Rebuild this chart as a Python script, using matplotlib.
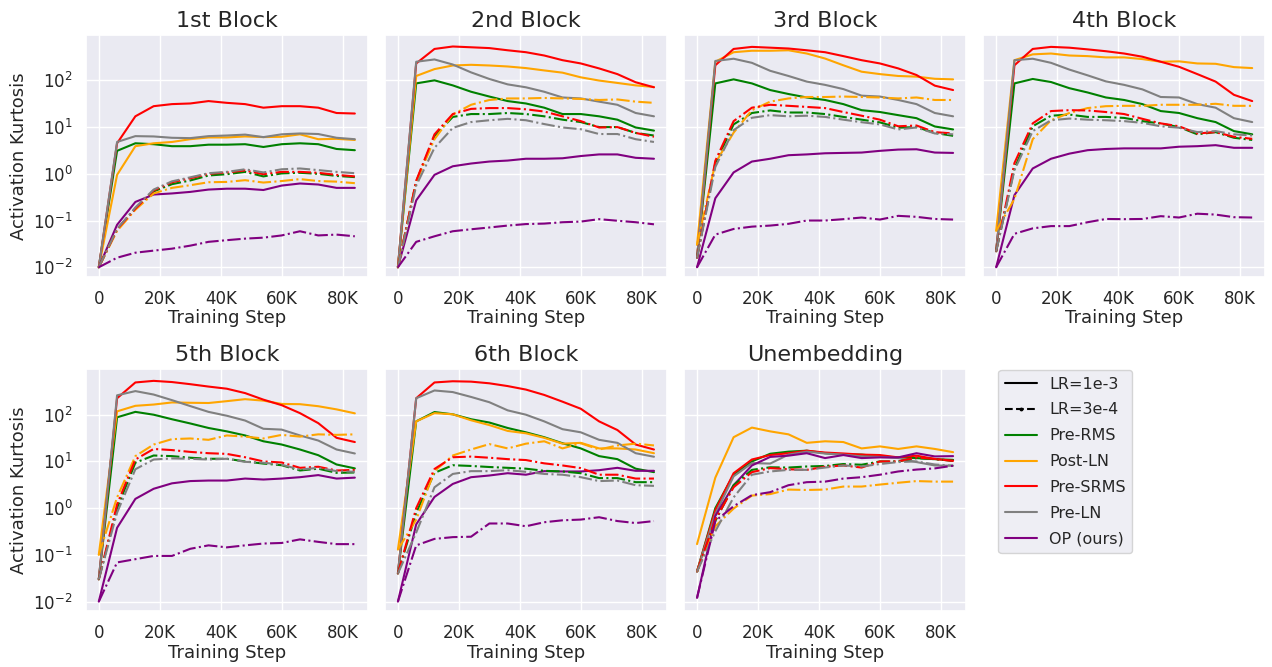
import numpy as np
import matplotlib
matplotlib.use('Agg')
import matplotlib.pyplot as plt
import seaborn as sns
from matplotlib.lines import Line2D
from matplotlib.ticker import FuncFormatter

sns.set_theme(style='darkgrid')

steps = [0, 6000, 12000, 18000, 24000, 30000, 36000, 42000, 48000, 54000,
         60000, 66000, 72000, 78000, 84000]

methods = ['Pre-RMS', 'Post-LN', 'Pre-SRMS', 'Pre-LN', 'OP (ours)']
colors = ['green', 'orange', 'red', 'gray', 'purple']
titles = ['1st Block', '2nd Block', '3rd Block', '4th Block',
          '5th Block', '6th Block', 'Unembedding']

# rows: Pre-RMS, Post-LN, Pre-SRMS, Pre-LN, OP  (LR=1e-3, solid)
block1_hi = [
    [0.01, 3.1, 4.5, 4.3, 3.9, 3.9, 4.2, 4.2, 4.3, 3.75, 4.3, 4.5, 4.3, 3.4, 3.2],
    [0.01, 0.95, 3.9, 4.5, 4.8, 5.5, 6.0, 6.0, 6.3, 6.1, 6.2, 7.0, 5.5, 5.6, 5.3],
    [0.01, 4.5, 17, 28, 31, 32, 36, 33, 31, 26, 28, 28, 26, 20, 19.5],
    [0.01, 4.8, 6.4, 6.3, 5.9, 5.8, 6.4, 6.6, 6.9, 6.1, 7.0, 7.3, 7.1, 5.9, 5.5],
    [0.01, 0.081, 0.25, 0.36, 0.38, 0.41, 0.46, 0.48, 0.48, 0.45, 0.56, 0.62, 0.59, 0.5, 0.5],
]
# same order, LR=3e-4 (dash-dot)
block1_lo = [
    [0.01, 0.065, 0.18, 0.42, 0.6, 0.72, 0.92, 0.98, 1.1, 0.88, 1.02, 1.05, 1.0, 0.9, 0.85],
    [0.01, 0.06, 0.17, 0.38, 0.5, 0.57, 0.66, 0.67, 0.73, 0.65, 0.7, 0.77, 0.7, 0.68, 0.63],
    [0.01, 0.065, 0.18, 0.44, 0.66, 0.8, 1.0, 1.07, 1.18, 0.98, 1.1, 1.1, 1.05, 0.95, 0.88],
    [0.01, 0.066, 0.19, 0.46, 0.69, 0.84, 1.03, 1.1, 1.25, 1.07, 1.25, 1.3, 1.2, 1.1, 1.03],
    [0.01, 0.016, 0.0205, 0.0227, 0.025, 0.029, 0.035, 0.038, 0.041, 0.043, 0.048, 0.059, 0.048, 0.05, 0.046],
]
block2_hi = [
    [0.01, 86, 100, 78, 57, 45, 36, 32, 26, 19, 19, 17, 14.4, 9.8, 8.4],
    [0.01, 124, 174, 208, 215, 208, 198, 183, 163, 146, 116, 99, 88, 78, 72],
    [0.01, 230, 470, 530, 510, 490, 440, 400, 340, 270, 230, 180, 136, 91, 71],
    [0.01, 250, 280, 218, 148, 107, 82, 71, 57, 43, 41, 35, 30, 20, 17],
    [0.01, 0.27, 0.95, 1.45, 1.66, 1.83, 1.92, 2.1, 2.1, 2.15, 2.4, 2.6, 2.6, 2.2, 2.1],
]
block2_lo = [
    [0.01, 0.68, 6.4, 16.5, 19, 19, 20, 19, 17, 14.4, 12.8, 10, 10, 7.5, 6.6],
    [0.01, 0.68, 5.5, 18.6, 30, 38, 41, 41, 42, 41, 40, 38, 39, 35, 33],
    [0.01, 0.71, 7, 19, 24.5, 25.5, 25.5, 24, 21.5, 17, 13.4, 9.8, 10, 7.5, 6.2],
    [0.01, 0.56, 3.6, 9.6, 12.8, 14, 15, 14, 11.6, 9.8, 9, 7.1, 7.1, 5.5, 4.8],
    [0.01, 0.035, 0.046, 0.059, 0.065, 0.071, 0.078, 0.084, 0.086, 0.092, 0.095, 0.107, 0.099, 0.092, 0.083],
]
block3_hi = [
    [0.016, 86, 105, 86, 62, 51, 43, 38, 31, 23, 21, 18, 15.5, 10.3, 8.9],
    [0.03, 250, 400, 430, 430, 440, 375, 293, 210, 153, 136, 124, 120, 108, 105],
    [0.016, 210, 470, 520, 500, 480, 440, 400, 330, 270, 230, 180, 130, 77, 62],
    [0.016, 260, 290, 237, 160, 124, 94, 80, 65, 47, 45, 38, 31, 20, 17],
    [0.01, 0.3, 1.07, 1.83, 2.1, 2.5, 2.6, 2.75, 2.8, 2.85, 3.1, 3.3, 3.35, 2.85, 2.8],
]
block3_lo = [
    [0.016, 1.7, 11.4, 20, 22.7, 20.5, 20.5, 19, 16.5, 14.4, 12.6, 9.7, 10, 7.5, 6.5],
    [0.03, 1.7, 7.6, 23, 35, 41, 44, 44, 45, 44, 43, 41, 43, 38, 38],
    [0.016, 1.9, 13.4, 26, 30, 28.5, 27, 25.5, 21, 17.5, 14.4, 10.4, 10.8, 7.8, 7.3],
    [0.016, 1.4, 8.6, 15.8, 18, 17, 17.5, 16.5, 14.4, 12.7, 11.4, 8.9, 9.8, 7.3, 7.0],
    [0.01, 0.05, 0.066, 0.074, 0.078, 0.085, 0.1, 0.1, 0.107, 0.116, 0.105, 0.126, 0.12, 0.108, 0.105],
]
block4_hi = [
    [0.022, 86, 107, 92, 68, 55, 43, 38, 31, 22, 20, 15.5, 12.8, 8.2, 7.0],
    [0.06, 270, 360, 375, 340, 330, 310, 310, 285, 250, 255, 230, 226, 192, 183],
    [0.022, 210, 470, 520, 500, 460, 420, 375, 320, 250, 195, 136, 94, 49, 36],
    [0.022, 270, 290, 237, 170, 128, 95, 80, 64, 44, 43, 31, 26, 15.5, 12.8],
    [0.01, 0.35, 1.3, 2.1, 2.7, 3.2, 3.4, 3.5, 3.5, 3.5, 3.8, 3.9, 4.1, 3.6, 3.6],
]
block4_lo = [
    [0.022, 1.3, 10.4, 17.5, 18.5, 16.5, 16.5, 15.7, 13.4, 11.9, 10, 7, 7.8, 5.9, 5.3],
    [0.06, 0.29, 5.5, 14, 20, 25.5, 28, 28.5, 28.5, 30, 30, 30, 31.5, 28.5, 28.5],
    [0.022, 1.7, 12, 22, 23, 22.7, 21, 19, 15, 12, 10.4, 7.3, 7.8, 6.2, 5.6],
    [0.022, 1.2, 8.2, 14, 15.2, 14.4, 14, 13.4, 12.3, 10.4, 9.7, 7.8, 8.2, 7, 6.6],
    [0.01, 0.052, 0.068, 0.076, 0.076, 0.092, 0.108, 0.107, 0.108, 0.124, 0.116, 0.14, 0.134, 0.118, 0.116],
]
block5_hi = [
    [0.03, 88, 115, 100, 80, 65, 52, 44, 36, 27, 23, 18, 13.6, 8.6, 7.1],
    [0.1, 118, 155, 165, 183, 180, 178, 195, 215, 200, 170, 168, 152, 130, 107],
    [0.03, 225, 490, 530, 500, 450, 400, 360, 290, 210, 160, 108, 66, 32, 26],
    [0.03, 260, 320, 270, 205, 153, 115, 95, 75, 50, 48, 36, 28, 18, 14.8],
    [0.01, 0.38, 1.58, 2.6, 3.4, 3.8, 3.9, 3.9, 4.3, 4.1, 4.3, 4.6, 5.1, 4.3, 4.5],
]
block5_lo = [
    [0.03, 1.0, 9.4, 13.4, 13, 12, 11.4, 11.4, 10, 9, 8.3, 6.4, 7, 5.7, 5.8],
    [0.1, 1.7, 13, 23, 30, 31, 29, 36, 34, 31, 37, 34, 38, 37, 38],
    [0.03, 1.2, 11, 18.5, 17.5, 16, 15, 14.5, 12.3, 10, 9.5, 7.3, 7.7, 6.4, 6.6],
    [0.03, 0.8, 6.8, 11, 11.6, 11.4, 11, 11.4, 9.8, 9.4, 8.5, 6.7, 7.3, 6.2, 6.0],
    [0.01, 0.069, 0.081, 0.095, 0.095, 0.135, 0.16, 0.145, 0.16, 0.175, 0.18, 0.215, 0.19, 0.17, 0.17],
]
block6_hi = [
    [0.04, 72, 114, 102, 80, 68, 52, 42, 33, 24.5, 19, 13, 11.2, 7, 5.9],
    [0.13, 72, 108, 102, 76, 60, 45, 40, 32, 24, 25, 19, 19, 18, 15],
    [0.04, 225, 490, 520, 510, 470, 410, 345, 265, 190, 134, 72, 47, 23, 18],
    [0.04, 225, 330, 305, 240, 185, 124, 100, 72, 49, 42, 29, 25, 15, 12.6],
    [0.01, 0.45, 1.74, 3.3, 4.6, 5.0, 5.6, 5.2, 6.2, 6.1, 6.1, 6.5, 7.3, 6.3, 6.3],
]
block6_lo = [
    [0.04, 0.8, 5.7, 8.3, 8.0, 7.6, 7.3, 7.0, 6.3, 6.1, 5.6, 4.4, 4.4, 3.6, 3.6],
    [0.13, 0.57, 6.2, 13.4, 18, 23.5, 19, 24, 27, 19, 24.5, 18, 22, 24, 22],
    [0.04, 1.0, 6.9, 12.3, 12.7, 12, 11.2, 10.7, 9.1, 8.2, 7.2, 5.2, 5.2, 4.3, 4.3],
    [0.04, 0.3, 2.8, 5.4, 6.2, 6.2, 6.5, 6.0, 5.4, 5.2, 4.6, 3.8, 3.9, 3.1, 3.0],
    [0.01, 0.16, 0.22, 0.24, 0.245, 0.47, 0.47, 0.41, 0.5, 0.55, 0.57, 0.64, 0.53, 0.48, 0.53],
]
unemb_hi = [
    [0.044, 1.0, 5.2, 10, 14.6, 16.2, 17, 15, 14, 14, 12.8, 12.2, 11.8, 11.2, 10.8],
    [0.17, 4.5, 33, 53, 44, 38, 25, 27, 26, 19, 21, 18.5, 21, 18.5, 15.8],
    [0.044, 0.9, 5.6, 11, 13.7, 15, 17, 15.5, 14.8, 14, 13.7, 12.2, 13.3, 11.3, 10.3],
    [0.044, 0.75, 4.8, 9.2, 9, 14, 16.2, 14.8, 14, 12.8, 12.5, 11.8, 9.7, 8.2, 8.1],
    [0.012, 0.68, 3.1, 8.2, 12.5, 13.3, 15, 11.8, 13.7, 11.8, 12.2, 12.2, 15, 12.8, 13],
]
unemb_lo = [
    [0.044, 0.53, 3.1, 6.6, 7.5, 7.4, 7.8, 8, 8.8, 8.5, 10, 10, 11.8, 11.2, 10.3],
    [0.044, 0.41, 0.98, 1.86, 2.0, 2.5, 2.45, 2.5, 2.9, 2.9, 3.2, 3.5, 3.8, 3.7, 3.7],
    [0.044, 0.57, 2.8, 5.9, 7.2, 6.8, 6.6, 7.7, 8.2, 7.4, 10, 10, 12.2, 11.3, 10.3],
    [0.044, 0.32, 1.7, 5.2, 6.1, 6.6, 6.6, 7.4, 8.2, 7.8, 8.8, 9.7, 10, 8.6, 8.1],
    [0.012, 0.53, 1.1, 1.9, 2.2, 3.1, 3.6, 3.7, 4.3, 4.6, 5.2, 6.1, 6.7, 7.1, 8.1],
]

panels = [(block1_hi, block1_lo), (block2_hi, block2_lo), (block3_hi, block3_lo),
          (block4_hi, block4_lo), (block5_hi, block5_lo), (block6_hi, block6_lo),
          (unemb_hi, unemb_lo)]

fig, axes = plt.subplots(2, 4, figsize=(12.72, 6.67), dpi=100, sharey=True)
fig.subplots_adjust(left=0.0676, right=0.9945, top=0.9475, bottom=0.084,
                    wspace=0.062, hspace=0.384)
axes = axes.ravel()

kfmt = FuncFormatter(lambda v, p: '0' if v == 0 else f'{int(v / 1000)}K')

for i, (hi, lo) in enumerate(panels):
    ax = axes[i]
    for vals, c in zip(hi, colors):
        ax.plot(steps, vals, color=c, linestyle='-', linewidth=1.5)
    for vals, c in zip(lo, colors):
        ax.plot(steps, vals, color=c, linestyle='-.', linewidth=1.5)
    ax.set_yscale('log')
    ax.set_ylim(10 ** -2.2, 10 ** 2.97)
    ax.set_xticks([0, 20000, 40000, 60000, 80000])
    ax.xaxis.set_major_formatter(kfmt)
    ax.tick_params(labelsize=12)
    ax.set_title(titles[i], fontsize=16)
    ax.set_xlabel('Training Step', fontsize=13, labelpad=1)
    if i % 4 == 0:
        ax.set_ylabel('Activation Kurtosis', fontsize=13)

axes[7].axis('off')
handles = [Line2D([0], [0], color='black', linestyle='-', lw=1.5),
           Line2D([0], [0], color='black', linestyle='--', marker='.',
                  markersize=3.5, lw=1.5)]
handles += [Line2D([0], [0], color=c, lw=1.5) for c in colors]
labels = ['LR=1e-3', 'LR=3e-4'] + methods
axes[7].legend(handles, labels, loc='upper left', bbox_to_anchor=(0.025, 1.03),
               fontsize=11.5, labelspacing=0.68, frameon=True)

plt.savefig('out.png', dpi=100)
